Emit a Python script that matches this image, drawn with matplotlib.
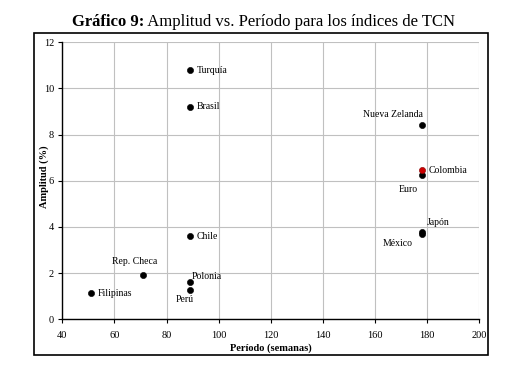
import matplotlib
matplotlib.use("Agg")
import matplotlib.pyplot as plt
from matplotlib.patches import Rectangle

paises = ["Turquía", "Brasil", "Nueva Zelanda", "Colombia", "Euro", "Japón",
          "México", "Chile", "Rep. Checa", "Polonia", "Perú", "Filipinas"]
periodo = [89, 89, 178, 178, 178, 178, 178, 89, 71, 89, 89, 51]
amplitud = [10.8, 9.2, 8.4, 6.45, 6.25, 3.8, 3.7, 3.6, 1.9, 1.6, 1.27, 1.13]
colores = ["black", "black", "black", "#cc0000", "black", "black",
           "black", "black", "black", "black", "black", "black"]
x_ticks = [40, 60, 80, 100, 120, 140, 160, 180, 200]
y_ticks = [0, 2, 4, 6, 8, 10, 12]

# label offsets in pixels (dx, dy, ha)
offsets = {
    "Turquía": (7, 0, "left"),
    "Brasil": (7, 0, "left"),
    "Nueva Zelanda": (-29, 11, "center"),
    "Colombia": (7, 0, "left"),
    "Euro": (-14, -14, "center"),
    "Japón": (16, 9, "center"),
    "México": (-24, -10, "center"),
    "Chile": (7, 0, "left"),
    "Rep. Checa": (-8, 14, "center"),
    "Polonia": (2, 6, "left"),
    "Perú": (-5, -10, "center"),
    "Filipinas": (7, 0, "left"),
}

serif = ["Liberation Serif", "DejaVu Serif"]
plt.rcParams["font.family"] = serif

fig = plt.figure(figsize=(5.27, 3.75), dpi=100)
fig.patch.set_facecolor("white")
ax = fig.add_axes([0.1182, 0.1485, 0.9095 - 0.1182, 0.8872 - 0.1485])

# draw order: Euro behind Colombia
order = [i for i in range(len(paises)) if paises[i] != "Colombia"] + [paises.index("Colombia")]
for i in order:
    ax.scatter(periodo[i], amplitud[i], s=20, color=colores[i], zorder=3,
               edgecolors="black" if colores[i] == "black" else "#880000", linewidths=0.4)

for i, p in enumerate(paises):
    dx, dy, ha = offsets[p]
    ax.annotate(p, (periodo[i], amplitud[i]), xytext=(dx, dy), textcoords="offset pixels",
                ha=ha, va="center", fontsize=7, zorder=4)

ax.set_xlim(40, 200)
ax.set_ylim(0, 12)
ax.set_xticks(x_ticks)
ax.set_yticks(y_ticks)
ax.tick_params(labelsize=7.5, length=3, width=0.8, direction="out", pad=3)
ax.tick_params(axis="x", pad=5.5)
ax.grid(True, color="#c0c0c0", linewidth=0.8)
ax.set_axisbelow(True)
for s in ["top", "right"]:
    ax.spines[s].set_visible(False)
for s in ["left", "bottom"]:
    ax.spines[s].set_linewidth(1.0)
ax.set_xlabel("Período (semanas)", fontsize=7.5, fontweight="bold", labelpad=2)
ax.set_ylabel("Amplitud (%)", fontsize=7.5, fontweight="bold")
ax.yaxis.set_label_coords(-0.033, 0.515)

# outer chart border
fig.add_artist(Rectangle((0.0645, 0.0533), 0.926 - 0.0645, 0.911 - 0.0533,
                         transform=fig.transFigure, fill=False, edgecolor="black",
                         linewidth=1.2))

# title with bold prefix
renderer = fig.canvas.get_renderer()
ty = 1 - 22 / 375
t1 = fig.text(0, ty, "Gráfico 9:", fontsize=12, fontweight="bold", va="center")
t2 = fig.text(0, ty, " Amplitud vs. Período para los índices de TCN", fontsize=12, va="center")
w1 = t1.get_window_extent(renderer).width / fig.bbox.width
w2 = t2.get_window_extent(renderer).width / fig.bbox.width
x0 = 0.5 - (w1 + w2) / 2
t1.set_x(x0)
t2.set_x(x0 + w1)

fig.savefig("out.png", dpi=100)
